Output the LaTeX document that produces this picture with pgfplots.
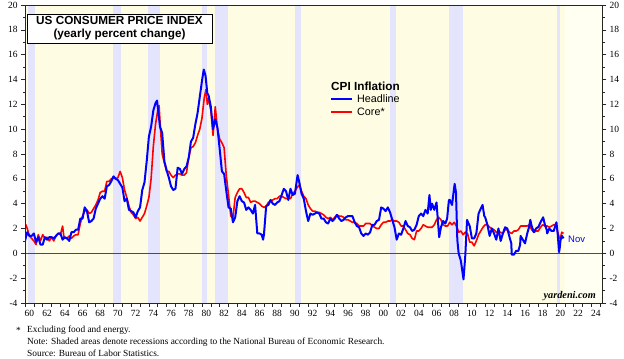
\documentclass[border=0pt]{standalone}
\usepackage{fontspec}
\setmainfont{Liberation Serif}
\newfontfamily\arial{Liberation Sans}
\usepackage{pgfplots}
\usepackage{pgfplotstable}
\pgfplotsset{compat=1.18}
\definecolor{bgy}{RGB}{254,253,228}
\definecolor{bgw}{RGB}{255,255,242}
\definecolor{rec}{RGB}{228,228,252}
\definecolor{hblue}{RGB}{0,0,255}
\definecolor{cred}{RGB}{255,0,0}

\pgfplotstableread{
x y
1960.0 1.0
1960.25 1.7
1960.5 1.4
1960.75 1.4
1961.0 1.6
1961.25 0.9
1961.5 1.3
1961.75 0.7
1962.0 0.7
1962.25 1.3
1962.5 1.1
1962.75 1.3
1963.0 1.3
1963.25 1.2
1963.5 1.4
1963.75 1.6
1964.0 1.6
1964.25 1.1
1964.5 1.3
1964.75 1.2
1965.0 1.0
1965.25 1.7
1965.5 1.7
1965.75 1.9
1966.0 1.9
1966.25 2.8
1966.5 2.8
1966.75 3.7
1967.0 3.4
1967.25 2.5
1967.5 2.6
1967.75 2.8
1968.0 3.6
1968.25 4.0
1968.5 4.4
1968.75 4.6
1969.0 4.4
1969.25 5.4
1969.5 5.5
1969.75 5.8
1970.0 6.2
1970.25 6.0
1970.5 5.9
1970.75 5.6
1971.0 5.3
1971.25 4.2
1971.5 4.4
1971.75 3.5
1972.0 3.4
1972.25 3.3
1972.5 2.9
1972.75 3.4
1973.0 3.7
1973.25 5.1
1973.5 5.7
1973.75 7.4
1974.0 9.4
1974.25 10.2
1974.5 11.5
1974.75 12.1
1974.92 12.3
1975.0 11.8
1975.25 10.2
1975.5 9.7
1975.75 7.4
1976.0 6.7
1976.25 6.1
1976.5 5.4
1976.75 5.1
1977.0 5.2
1977.25 6.9
1977.5 6.8
1977.75 6.4
1978.0 6.8
1978.25 7.0
1978.5 7.7
1978.75 9.0
1979.0 9.3
1979.25 10.4
1979.5 11.3
1979.75 12.6
1980.0 13.9
1980.2 14.8
1980.4 14.3
1980.6 12.9
1980.75 12.7
1981.0 11.8
1981.25 10.0
1981.5 10.8
1981.75 10.1
1982.0 8.4
1982.25 6.6
1982.5 6.4
1982.75 5.0
1983.0 3.7
1983.25 3.6
1983.5 2.5
1983.75 2.9
1984.0 4.2
1984.25 4.6
1984.5 4.2
1984.75 4.1
1985.0 3.5
1985.25 3.7
1985.5 3.5
1985.75 3.2
1986.0 3.9
1986.25 1.6
1986.5 1.6
1986.75 1.5
1986.9 1.1
1987.0 1.5
1987.25 3.8
1987.5 3.9
1987.75 4.3
1988.0 4.0
1988.25 3.9
1988.5 4.1
1988.75 4.2
1989.0 4.7
1989.25 5.2
1989.5 5.0
1989.75 4.3
1990.0 5.2
1990.25 4.7
1990.5 4.8
1990.8 6.3
1991.0 5.7
1991.25 4.8
1991.5 4.4
1991.75 3.4
1992.0 2.6
1992.25 3.2
1992.5 3.1
1992.75 3.2
1993.0 3.3
1993.25 3.2
1993.5 2.8
1993.75 2.8
1994.0 2.5
1994.25 2.4
1994.5 2.8
1994.75 2.6
1995.0 2.8
1995.25 3.1
1995.5 2.8
1995.75 2.6
1996.0 2.7
1996.25 2.9
1996.5 3.0
1996.75 3.0
1997.0 3.0
1997.25 2.5
1997.5 2.2
1997.75 2.1
1998.0 1.6
1998.25 1.4
1998.5 1.6
1998.75 1.5
1999.0 1.7
1999.25 2.3
1999.5 2.3
1999.75 2.6
2000.0 2.7
2000.25 3.7
2000.5 3.6
2000.75 3.4
2001.0 3.7
2001.25 3.3
2001.5 2.7
2001.75 2.1
2002.0 1.1
2002.25 1.6
2002.5 1.5
2002.75 2.0
2003.0 2.6
2003.25 2.2
2003.5 2.1
2003.75 1.8
2004.0 1.9
2004.25 2.3
2004.5 3.0
2004.75 3.2
2005.0 3.0
2005.25 3.5
2005.5 3.2
2005.7 4.7
2005.85 3.5
2006.0 4.0
2006.25 3.5
2006.5 4.1
2006.8 1.3
2007.0 2.1
2007.25 2.6
2007.5 2.4
2007.7 2.8
2007.9 4.3
2008.0 4.3
2008.25 3.9
2008.55 5.6
2008.7 4.9
2008.85 1.1
2009.0 0.0
2009.25 -0.6
2009.55 -2.1
2009.75 -0.2
2009.95 2.7
2010.0 2.6
2010.25 2.2
2010.5 1.2
2010.75 1.2
2011.0 1.6
2011.25 3.2
2011.5 3.6
2011.7 3.9
2011.9 3.0
2012.0 2.9
2012.25 2.3
2012.5 1.4
2012.75 2.0
2013.0 1.6
2013.25 1.1
2013.5 2.0
2013.75 1.0
2014.0 1.6
2014.25 2.1
2014.5 2.0
2014.75 1.3
2014.95 0.8
2015.0 -0.1
2015.25 -0.1
2015.5 0.2
2015.75 0.2
2015.95 0.7
2016.0 1.4
2016.25 1.1
2016.5 0.8
2016.75 1.6
2016.95 2.1
2017.1 2.7
2017.25 2.2
2017.5 1.7
2017.75 2.0
2017.95 2.1
2018.0 2.1
2018.25 2.5
2018.55 2.9
2018.75 2.3
2018.95 1.9
2019.0 1.6
2019.25 2.0
2019.5 1.8
2019.75 1.8
2019.95 2.3
2020.05 2.5
2020.2 1.5
2020.35 0.1
2020.45 0.6
2020.5 1.0
2020.6 1.3
2020.7 1.4
2020.85 1.2
}\headline

\pgfplotstableread{
x y
1960.0 2.0
1960.1 2.3
1960.25 2.0
1960.5 1.4
1960.75 1.2
1961.0 1.0
1961.25 0.7
1961.5 1.5
1961.75 1.0
1962.0 1.5
1962.25 1.2
1962.5 1.3
1962.75 1.0
1963.0 1.3
1963.25 1.0
1963.5 1.4
1963.75 1.6
1964.0 1.5
1964.25 2.2
1964.4 1.3
1964.75 1.2
1965.0 1.4
1965.25 1.2
1965.5 1.4
1965.75 1.5
1966.0 1.5
1966.25 2.4
1966.5 3.0
1966.75 3.4
1967.0 3.5
1967.25 3.2
1967.5 3.3
1967.75 3.6
1968.0 3.9
1968.25 4.3
1968.5 4.9
1968.75 5.0
1969.0 5.0
1969.25 5.8
1969.5 5.8
1969.75 6.0
1970.0 6.1
1970.25 6.0
1970.5 6.1
1970.75 6.6
1971.0 6.1
1971.25 5.1
1971.5 4.5
1971.75 3.8
1972.0 3.3
1972.25 3.1
1972.5 2.8
1972.75 2.9
1973.0 2.6
1973.25 2.9
1973.5 3.2
1973.75 3.8
1974.0 4.5
1974.25 6.0
1974.5 8.6
1974.75 10.4
1975.0 11.5
1975.15 11.9
1975.25 10.7
1975.5 8.0
1975.75 7.3
1976.0 6.6
1976.25 6.6
1976.5 6.3
1976.75 6.1
1977.0 6.3
1977.25 6.4
1977.5 6.4
1977.75 6.3
1978.0 6.3
1978.25 6.5
1978.5 7.7
1978.75 8.5
1979.0 8.6
1979.25 8.9
1979.5 9.5
1979.75 10.0
1980.0 10.9
1980.25 12.5
1980.45 13.2
1980.6 12.0
1980.75 12.5
1981.0 11.5
1981.25 9.5
1981.5 11.8
1981.75 10.0
1982.0 9.2
1982.25 8.9
1982.5 8.5
1982.75 6.2
1983.0 4.7
1983.25 3.0
1983.5 2.9
1983.75 4.5
1984.0 4.9
1984.25 5.2
1984.5 5.2
1984.75 4.9
1985.0 4.5
1985.25 4.5
1985.5 4.1
1985.75 4.2
1986.0 4.2
1986.25 4.1
1986.5 4.0
1986.75 3.8
1987.0 3.7
1987.25 3.8
1987.5 4.1
1987.75 4.2
1988.0 4.3
1988.25 4.4
1988.5 4.4
1988.75 4.6
1989.0 4.6
1989.25 4.5
1989.5 4.4
1989.75 4.4
1990.0 4.4
1990.25 4.8
1990.5 5.0
1990.75 5.3
1991.0 5.5
1991.25 5.0
1991.5 4.6
1991.75 4.4
1992.0 3.9
1992.25 3.6
1992.5 3.4
1992.75 3.4
1993.0 3.3
1993.25 3.3
1993.5 3.2
1993.75 3.1
1994.0 2.9
1994.25 2.8
1994.5 2.9
1994.75 2.7
1995.0 2.9
1995.25 3.1
1995.5 3.0
1995.75 3.0
1996.0 2.9
1996.25 2.7
1996.5 2.7
1996.75 2.6
1997.0 2.5
1997.25 2.5
1997.5 2.4
1997.75 2.2
1998.0 2.2
1998.25 2.2
1998.5 2.4
1998.75 2.4
1999.0 2.4
1999.25 2.2
1999.5 2.1
1999.75 2.0
2000.0 2.0
2000.25 2.3
2000.5 2.5
2000.75 2.5
2001.0 2.6
2001.25 2.6
2001.5 2.7
2001.75 2.6
2002.0 2.6
2002.25 2.5
2002.5 2.2
2002.75 2.2
2003.0 1.9
2003.25 1.6
2003.5 1.5
2003.75 1.2
2004.0 1.1
2004.25 1.8
2004.5 1.8
2004.75 2.0
2005.0 2.3
2005.25 2.2
2005.5 2.1
2005.75 2.1
2006.0 2.1
2006.25 2.3
2006.5 2.7
2006.75 2.9
2007.0 2.7
2007.25 2.3
2007.5 2.2
2007.75 2.2
2008.0 2.5
2008.25 2.3
2008.5 2.5
2008.75 2.2
2009.0 1.7
2009.25 1.8
2009.5 1.5
2009.75 1.7
2010.0 1.6
2010.25 0.9
2010.5 0.9
2010.75 0.6
2011.0 1.0
2011.25 1.5
2011.5 1.8
2011.75 2.1
2012.0 2.3
2012.25 2.3
2012.5 2.1
2012.75 2.0
2013.0 1.9
2013.25 1.7
2013.5 1.7
2013.75 1.7
2014.0 1.6
2014.25 1.9
2014.5 1.9
2014.75 1.7
2015.0 1.6
2015.25 1.8
2015.5 1.8
2015.75 1.9
2016.0 2.2
2016.25 2.2
2016.5 2.2
2016.75 2.2
2017.0 2.3
2017.25 1.9
2017.5 1.7
2017.75 1.8
2018.0 1.8
2018.25 2.1
2018.5 2.3
2018.75 2.2
2019.0 2.2
2019.25 2.1
2019.5 2.2
2019.75 2.3
2020.0 2.3
2020.2 1.7
2020.4 1.2
2020.5 1.2
2020.65 1.7
2020.85 1.6
}\core

\begin{document}
\begin{tikzpicture}
\path[use as bounding box] (0,0) rectangle (624bp,359bp);
\begin{axis}[
  at={(25bp,56bp)}, anchor=south west, scale only axis,
  width=577bp, height=298bp,
  xmin=1960, xmax=2025.2, ymin=-4, ymax=20,
  axis on top,
  axis line style={line width=0.9bp, black!85},
  tick align=outside, major tick length=4bp, minor tick length=2.5bp,
  tick style={black!85, line width=0.6bp},
  xtick pos=lower,
  xtick={1960,1961,...,2025}, xticklabels={},
  extra x ticks={1960.5,1962.5,1964.5,1966.5,1968.5,1970.5,1972.5,1974.5,1976.5,1978.5,1980.5,1982.5,1984.5,1986.5,1988.5,1990.5,1992.5,1994.5,1996.5,1998.5,2000.5,2002.5,2004.5,2006.5,2008.5,2010.5,2012.5,2014.5,2016.5,2018.5,2020.5,2022.5,2024.5},
  extra x tick labels={60,62,64,66,68,70,72,74,76,78,80,82,84,86,88,90,92,94,96,98,00,02,04,06,08,10,12,14,16,18,20,22,24},
  extra x tick style={tick style={draw=none}},
  ytick={-4,-2,...,20}, minor ytick={-3,-1,...,19},
  ticklabel style={font=\fontsize{9.5}{10}\selectfont},
  /pgf/number format/assume math mode=true,
  clip=true,
]
\addplot[fill=bgy, draw=none] coordinates {(1960,-4) (1960,20) (2021,20) (2021,-4)};
\addplot[fill=bgw, draw=none] coordinates {(2021,-4) (2021,20) (2025.2,20) (2025.2,-4)};
\addplot[fill=rec, draw=none] coordinates {(1960.3,-4) (1960.3,20) (1961.1,20) (1961.1,-4)};
\addplot[fill=rec, draw=none] coordinates {(1969.9,-4) (1969.9,20) (1970.9,20) (1970.9,-4)};
\addplot[fill=rec, draw=none] coordinates {(1973.85,-4) (1973.85,20) (1975.2,20) (1975.2,-4)};
\addplot[fill=rec, draw=none] coordinates {(1980.0,-4) (1980.0,20) (1980.55,20) (1980.55,-4)};
\addplot[fill=rec, draw=none] coordinates {(1981.5,-4) (1981.5,20) (1982.9,20) (1982.9,-4)};
\addplot[fill=rec, draw=none] coordinates {(1990.5,-4) (1990.5,20) (1991.2,20) (1991.2,-4)};
\addplot[fill=rec, draw=none] coordinates {(2001.2,-4) (2001.2,20) (2001.9,20) (2001.9,-4)};
\addplot[fill=rec, draw=none] coordinates {(2007.9,-4) (2007.9,20) (2009.5,20) (2009.5,-4)};
\addplot[fill=rec, draw=none] coordinates {(2020.1,-4) (2020.1,20) (2020.4,20) (2020.4,-4)};
\addplot[black!70, line width=0.5bp] coordinates {(1960,0) (2025.2,0)};
\addplot[cred, line width=1.6bp, line join=round] table[x=x, y=y] {\core};
\addplot[hblue, line width=2bp, line join=round] table[x=x, y=y] {\headline};
\end{axis}
\begin{axis}[
  at={(25bp,56bp)}, anchor=south west, scale only axis,
  width=577bp, height=298bp,
  xmin=1960, xmax=2025.2, ymin=-4, ymax=20,
  hide x axis, axis y line*=right,
  axis line style={line width=0.9bp, black!85},
  tick align=outside, major tick length=4bp, minor tick length=2.5bp,
  tick style={black!85, line width=0.6bp},
  ytick={-4,-2,...,20}, minor ytick={-3,-1,...,19},
  ticklabel style={font=\fontsize{9.5}{10}\selectfont},
  /pgf/number format/assume math mode=true,
]
\addplot[draw=none] coordinates {(1960,0)};
\end{axis}
% title box
\node[draw=black, line width=0.9bp, fill=white, minimum width=185bp, minimum height=29bp, align=center, inner sep=1bp,
  font=\arial\bfseries\fontsize{11.8}{13}\selectfont] at (119.5bp,330.5bp)
  {US CONSUMER PRICE INDEX\\(yearly percent change)};
% legend
\node[anchor=west, inner sep=0pt, font=\arial\bfseries\fontsize{11.8}{12}\selectfont] at (331bp,273bp) {CPI Inflation};
\draw[hblue, line width=1.8bp] (331bp,260bp) -- (352bp,260bp);
\node[anchor=west, inner sep=0pt, font=\arial\fontsize{10.8}{12}\selectfont] at (357bp,260bp) {Headline};
\draw[cred, line width=1.8bp] (331bp,247bp) -- (352bp,247bp);
\node[anchor=west, inner sep=0pt, font=\arial\fontsize{10.8}{12}\selectfont] at (357bp,247bp) {Core*};
% Nov label
\node[anchor=west, inner sep=0pt, text=hblue, font=\arial\fontsize{9.5}{10}\selectfont] at (568bp,120bp) {Nov};
% yardeni
\node[anchor=east, inner sep=0pt, font=\bfseries\itshape\fontsize{10.3}{11}\selectfont] at (596bp,63bp) {yardeni.com};
% footnotes
\node[anchor=west, inner sep=0pt, font=\fontsize{9.4}{10}\selectfont] at (16bp,29bp) {*};
\node[anchor=west, inner sep=0pt, font=\fontsize{9.4}{10}\selectfont] at (27bp,29bp) {Excluding food and energy.};
\node[anchor=west, inner sep=0pt, font=\fontsize{9.4}{10}\selectfont] at (27bp,17bp) {Note: Shaded areas denote recessions according to the National Bureau of Economic Research.};
\node[anchor=west, inner sep=0pt, font=\fontsize{9.4}{10}\selectfont] at (27bp,6bp) {Source: Bureau of Labor Statistics.};
\end{tikzpicture}
\end{document}
